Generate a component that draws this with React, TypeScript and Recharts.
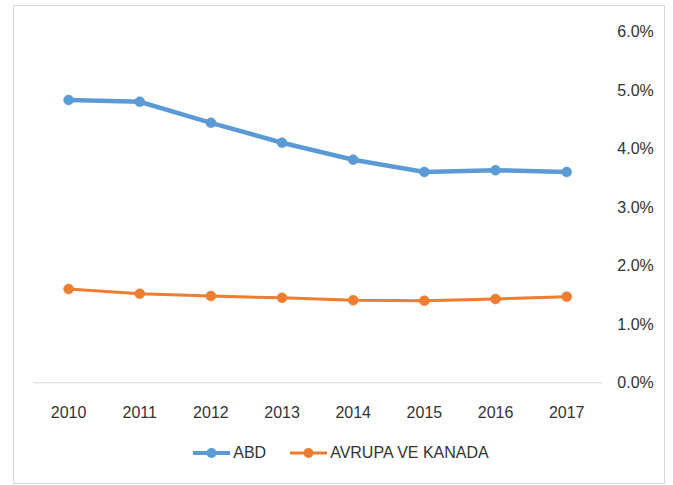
import React from 'react';
import { LineChart, Line, XAxis, YAxis, Legend } from 'recharts';

const years = ['2010', '2011', '2012', '2013', '2014', '2015', '2016', '2017'];
const abd = [4.83, 4.8, 4.44, 4.1, 3.81, 3.6, 3.63, 3.6];
const avrupa = [1.6, 1.52, 1.48, 1.45, 1.41, 1.4, 1.43, 1.47];
const yTicks = [0, 1, 2, 3, 4, 5, 6];
const seriesNames = { abd: 'ABD', avrupa: 'AVRUPA VE KANADA' };

const BLUE = '#5B9BD5';
const ORANGE = '#ED7D31';
const TEXT = '#333333';
const FONT = '"Liberation Sans", Arial, sans-serif';

const data = years.map((y, i) => ({ year: y, abd: abd[i], avrupa: avrupa[i] }));

const LegendContent = (props: any) => {
  const payload = props.payload || [];
  return (
    <div
      style={{
        display: 'flex',
        justifyContent: 'center',
        alignItems: 'center',
        paddingLeft: 9,
        fontFamily: FONT,
        fontSize: 16,
        lineHeight: '18px',
        color: TEXT,
      }}
    >
      {payload.map((p: any, i: number) => (
        <div
          key={i}
          style={{ display: 'flex', alignItems: 'center', marginRight: i < payload.length - 1 ? 24 : 0 }}
        >
          <svg width={37} height={12} style={{ display: 'block' }}>
            <line x1={0} y1={6} x2={37} y2={6} stroke={p.color} strokeWidth={i === 0 ? 4 : 3} />
            <circle cx={18.5} cy={6} r={5} fill={p.color} />
          </svg>
          <span style={{ marginLeft: 3 }}>{p.value}</span>
        </div>
      ))}
    </div>
  );
};

export default function App() {
  return (
    <div style={{ position: 'absolute', left: 0, top: 0, width: 673, height: 485, background: '#fff' }}>
      <div
        style={{
          position: 'absolute',
          left: 13,
          top: 5,
          width: 652,
          height: 479,
          border: '1px solid #d9d9d9',
          boxSizing: 'border-box',
        }}
      />
      <div style={{ position: 'absolute', left: 0, top: 0 }}>
        <LineChart
          width={673}
          height={485}
          data={data}
          margin={{ top: 31.5, right: 0, bottom: 0, left: 33 }}
        >
          <XAxis
            dataKey="year"
            height={102.3}
            padding={{ left: 35.6, right: 35.6 }}
            axisLine={{ stroke: '#d9d9d9', strokeWidth: 1 }}
            tickLine={false}
            tickSize={0}
            tickMargin={24}
            tick={{ fill: TEXT, fontSize: 16, fontFamily: FONT }}
            interval={0}
          />
          <YAxis
            orientation="right"
            width={70.7}
            domain={[0, 6]}
            ticks={yTicks}
            axisLine={false}
            tickLine={false}
            tickSize={0}
            tickMargin={15}
            tickFormatter={(v: number) => v.toFixed(1) + '%'}
            tick={{ fill: TEXT, fontSize: 16, fontFamily: FONT, textAnchor: 'start' }}
          />
          <Legend
            layout="horizontal"
            verticalAlign="middle"
            align="center"
            content={<LegendContent />}
            wrapperStyle={{ top: 443.5, left: 0, width: 673, height: 18 }}
          />
          <Line
            dataKey="abd"
            name={seriesNames.abd}
            stroke={BLUE}
            strokeWidth={4.5}
            dot={{ r: 5, fill: BLUE, stroke: BLUE, strokeWidth: 0.5 }}
            activeDot={false}
            isAnimationActive={false}
          />
          <Line
            dataKey="avrupa"
            name={seriesNames.avrupa}
            stroke={ORANGE}
            strokeWidth={3}
            dot={{ r: 5, fill: ORANGE, stroke: ORANGE, strokeWidth: 0.5 }}
            activeDot={false}
            isAnimationActive={false}
          />
        </LineChart>
      </div>
    </div>
  );
}
